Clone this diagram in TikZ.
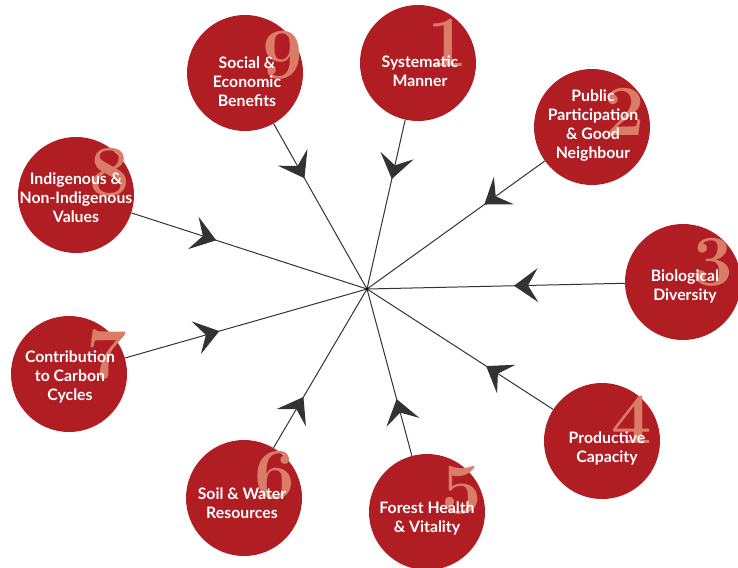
\documentclass[tikz,border=0pt]{standalone}
\usepackage{fontspec}
\setsansfont{Lato}
\usetikzlibrary{arrows.meta,decorations.markings,calc}
\definecolor{discred}{RGB}{176,30,36}
\definecolor{numsalmon}{RGB}{218,124,104}
\tikzset{
  disc/.style={circle,fill=discred,minimum size=116pt,inner sep=0pt},
  digit/.style={text=numsalmon,font=\bfseries\fontsize{72}{72}\selectfont,inner sep=0pt},
  caption/.style={text=white,align=center,font=\sffamily\bfseries\fontsize{15.8}{19}\selectfont,inner sep=0pt},
  conn/.style={draw=black!80,line width=1pt,postaction={decorate},
    decoration={markings,mark=at position #1 with {\arrow{Stealth[length=24pt,width=34pt,inset=10pt]}}}},
  conn/.default=0.33
}
\begin{document}
\begin{tikzpicture}[x=1pt,y=-1pt]
\useasboundingbox (0,0) rectangle (738,567);
\clip (0,0) rectangle (738,567);
\coordinate (hub) at (367,289);
% discs
\node[disc] (c1) at (418,63) {};
\node[disc] (c2) at (592,127) {};
\node[disc] (c3) at (683,282) {};
\node[disc] (c4) at (602,441) {};
\node[disc] (c5) at (427,512) {};
\node[disc] (c6) at (244,498) {};
\node[disc] (c7) at (69,374) {};
\node[disc] (c8) at (76,195) {};
\node[disc] (c9) at (245,73) {};
% digits
\node[digit] at ($(c1)+(30,-20)$) {1};
\node[digit] at ($(c2)+(33,-15)$) {2};
\node[digit] at ($(c3)+(30,-20)$) {3};
\node[digit] at ($(c4)+(30,-21)$) {4};
\node[digit] at ($(c5)+(35,-22)$) {5};
\node[digit] at ($(c6)+(31,-23)$) {6};
\node[digit] at ($(c7)+(38,-19)$) {7};
\node[digit] at ($(c8)+(34,-23)$) {8};
\node[digit] at ($(c9)+(38,-18)$) {9};
% captions
\node[caption] at ($(c1)+(2,8)$) {Systematic\\Manner};
\node[caption] at ($(c2)+(1,-1)$) {Public\\Participation\\\& Good\\Neighbour};
\node[caption] at ($(c3)+(2,4)$) {Biological\\Diversity};
\node[caption] at ($(c4)+(5,7)$) {Productive\\Capacity};
\node[caption] at ($(c5)+(0,6)$) {Forest Health\\\& Vitality};
\node[caption] at ($(c6)+(-2,5)$) {Soil \& Water\\Resources};
\node[caption] at ($(c7)+(1,3)$) {Contribution\\to Carbon\\Cycles};
\node[caption] at ($(c8)+(0,3)$) {Indigenous \&\\Non-Indigenous\\Values};
\node[caption] at ($(c9)+(2,9)$) {Social \&\\Economic\\Benefits};
% connectors
\draw[conn=0.35] (c1) -- (hub);
\draw[conn=0.34] (c2) -- (hub);
\draw[conn=0.43] (c3) -- (hub);
\draw[conn=0.36] (c4) -- (hub);
\draw[conn=0.34] (c5) -- (hub);
\draw[conn=0.32] (c6) -- (hub);
\draw[conn=0.39] (c7) -- (hub);
\draw[conn=0.36] (c8) -- (hub);
\draw[conn=0.33] (c9) -- (hub);
\fill[black] (hub) circle (1.5pt);
\end{tikzpicture}
\end{document}
